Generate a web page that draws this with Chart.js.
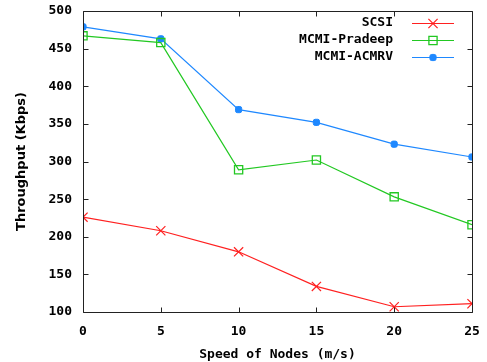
<!DOCTYPE html>
<html>
<head>
<meta charset="utf-8">
<script src="https://cdn.jsdelivr.net/npm/chart.js@4/dist/chart.umd.min.js"></script>
<style>
html,body{margin:0;padding:0;background:#fff;}
#wrap{width:487px;height:362px;}
</style>
</head>
<body>
<div id="wrap"><canvas id="c" width="487" height="362"></canvas></div>
<script>
const speeds = [0, 5, 10, 15, 20, 25];
const scsi = [226, 208, 180, 134, 107, 111];
const pradeep = [467, 458, 289, 302, 253, 216];
const acmrv = [479, 463, 369, 352, 323, 306];
const seriesNames = ['SCSI', 'MCMI-Pradeep', 'MCMI-ACMRV'];
const xTicks = [0, 5, 10, 15, 20, 25];
const yTicks = [100, 150, 200, 250, 300, 350, 400, 450, 500];

const toPts = arr => speeds.map((s, i) => ({x: s, y: arr[i]}));
const MONO = '"DejaVu Sans Mono", "Liberation Mono", monospace';

const frame = {
  id: 'frame',
  afterDraw(chart) {
    const ctx = chart.ctx, a = chart.chartArea;
    const xs = chart.scales.x, ys = chart.scales.y;
    ctx.save();
    ctx.strokeStyle = '#222';
    ctx.lineWidth = 1;
    ctx.beginPath();
    const L = Math.round(a.left) + 0.5, R = Math.round(a.right) + 0.5;
    const T = Math.round(a.top) + 0.5, B = Math.round(a.bottom) + 0.5;
    ctx.rect(L, T, R - L, B - T);
    xTicks.forEach(v => {
      const px = Math.round(xs.getPixelForValue(v)) + 0.5;
      ctx.moveTo(px, B); ctx.lineTo(px, B - 5);
      ctx.moveTo(px, T); ctx.lineTo(px, T + 5);
    });
    yTicks.forEach(v => {
      const py = Math.round(ys.getPixelForValue(v)) + 0.5;
      ctx.moveTo(L, py); ctx.lineTo(L + 5, py);
      ctx.moveTo(R, py); ctx.lineTo(R - 5, py);
    });
    ctx.stroke();
    // legend
    ctx.font = 'bold 13px ' + MONO;
    ctx.textAlign = 'right';
    ctx.textBaseline = 'middle';
    chart.data.datasets.forEach((ds, i) => {
      const y = 23 + i * 17;
      ctx.fillStyle = '#000';
      ctx.fillText(ds.label, 393, y);
      ctx.strokeStyle = ds.borderColor;
      ctx.lineWidth = ds.borderWidth;
      ctx.beginPath();
      ctx.moveTo(412, y + 0.5); ctx.lineTo(454, y + 0.5);
      ctx.stroke();
      ctx.fillStyle = ds.pointBackgroundColor;
      ctx.strokeStyle = ds.pointBorderColor;
      ctx.lineWidth = ds.pointBorderWidth;
      Chart.helpers.drawPoint(ctx, {
        pointStyle: ds.pointStyle, radius: ds.pointRadius, rotation: 0,
        borderWidth: ds.pointBorderWidth
      }, 433, y + 0.5);
    });
    ctx.restore();
  }
};

const hiddenGrid = len => ({display: true, drawOnChartArea: false, drawTicks: true, tickLength: len, color: 'rgba(0,0,0,0)'});

new Chart(document.getElementById('c'), {
  type: 'line',
  data: {
    datasets: [
      {label: seriesNames[0], data: toPts(scsi), borderColor: '#ff2020', borderWidth: 1.2,
       pointStyle: 'crossRot', pointRadius: 6.5, pointBorderColor: '#ff2020', pointBackgroundColor: '#ff2020', pointBorderWidth: 1.2},
      {label: seriesNames[1], data: toPts(pradeep), borderColor: '#22c822', borderWidth: 1.2,
       pointStyle: 'rect', pointRadius: 5.8, pointBorderColor: '#22c822', pointBackgroundColor: 'rgba(0,0,0,0)', pointBorderWidth: 1.3},
      {label: seriesNames[2], data: toPts(acmrv), borderColor: '#1e88ff', borderWidth: 1.2,
       pointStyle: 'rectRounded', pointRadius: 3.6, pointBorderColor: '#1e88ff', pointBackgroundColor: '#1e88ff', pointBorderWidth: 1}
    ]
  },
  options: {
    responsive: false,
    animation: false,
    devicePixelRatio: 1,
    layout: {padding: {left: 0, right: 15, top: 11, bottom: 0}},
    plugins: {legend: {display: false}, tooltip: {enabled: false}},
    scales: {
      x: {
        type: 'linear', min: 0, max: 25,
        afterBuildTicks: s => { s.ticks = xTicks.map(v => ({value: v})); },
        afterFit: s => { s.height = 50; },
        grid: hiddenGrid(12), border: {display: false},
        ticks: {color: '#000', padding: 0, font: {family: MONO, weight: 'bold', size: 13}, maxRotation: 0},
        title: {display: true, text: 'Speed of Nodes (m/s)', color: '#000', padding: {top: 6, bottom: 0},
                font: {family: MONO, weight: 'bold', size: 13}}
      },
      y: {
        min: 100, max: 500,
        afterBuildTicks: s => { s.ticks = yTicks.map(v => ({value: v})); },
        afterFit: s => { s.width = 83; },
        grid: hiddenGrid(11), border: {display: false},
        ticks: {color: '#000', padding: 0, font: {family: MONO, weight: 'bold', size: 13}},
        title: {display: true, text: 'Throughput (Kbps)', color: '#000', padding: {top: 14, bottom: 0},
                font: {family: '"DejaVu Sans", sans-serif', weight: 'bold', size: 13}}
      }
    }
  },
  plugins: [frame]
});
</script>
</body>
</html>
